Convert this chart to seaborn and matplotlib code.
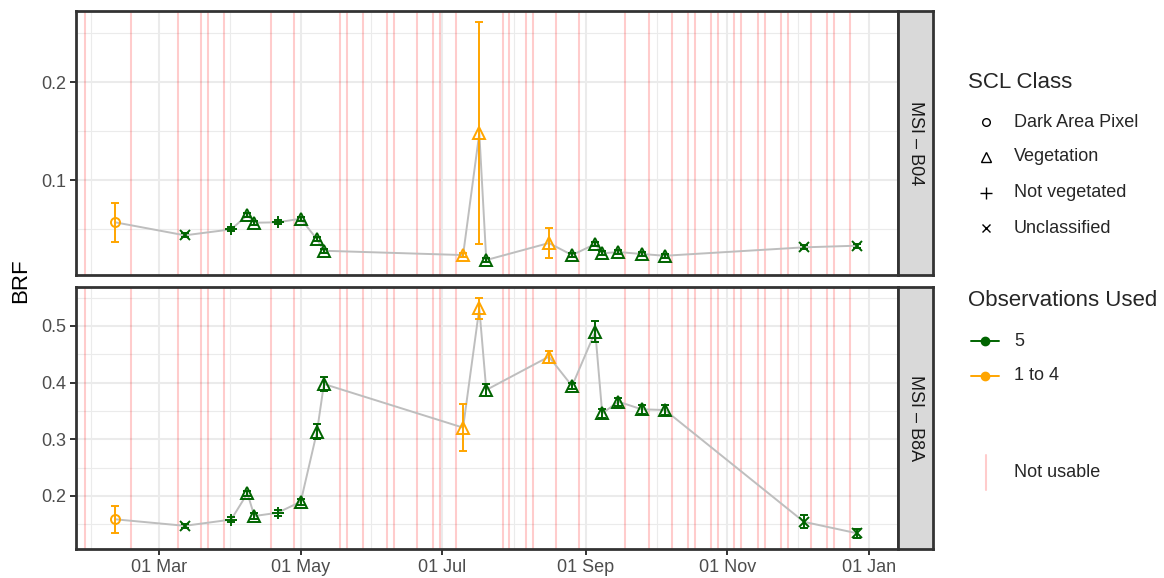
import numpy as np
import pandas as pd
import seaborn as sns
import matplotlib.pyplot as plt
import matplotlib.dates as mdates

# observation dates (Sentinel-2 overpasses used)
dates = ['2019-02-10', '2019-03-12', '2019-04-01', '2019-04-08', '2019-04-11', '2019-04-21',
         '2019-05-01', '2019-05-08', '2019-05-11', '2019-07-10', '2019-07-17', '2019-07-20',
         '2019-08-16', '2019-08-26', '2019-09-05', '2019-09-08', '2019-09-15', '2019-09-25',
         '2019-10-05', '2019-12-04', '2019-12-27']

scl_class = ['Dark Area Pixel', 'Unclassified', 'Not vegetated', 'Vegetation', 'Vegetation',
             'Not vegetated', 'Vegetation', 'Vegetation', 'Vegetation', 'Vegetation', 'Vegetation',
             'Vegetation', 'Vegetation', 'Vegetation', 'Vegetation', 'Vegetation', 'Vegetation',
             'Vegetation', 'Vegetation', 'Unclassified', 'Unclassified']

obs_used = ['1 to 4', '5', '5', '5', '5', '5', '5', '5', '5', '1 to 4', '1 to 4', '5',
            '1 to 4', '5', '5', '5', '5', '5', '5', '5', '5']

b04 = [0.0567, 0.0434, 0.0495, 0.0642, 0.0563, 0.0567, 0.0604, 0.0393, 0.0276, 0.0232, 0.1478,
       0.0181, 0.0355, 0.0232, 0.0345, 0.0250, 0.0263, 0.0243, 0.0225, 0.0311, 0.0328]
b04_err = [0.0198, 0.0020, 0.0020, 0.0020, 0.0020, 0.0020, 0.0020, 0.0020, 0.0020, 0.0020, 0.1135,
           0.0020, 0.0153, 0.0020, 0.0020, 0.0020, 0.0020, 0.0020, 0.0020, 0.0020, 0.0020]

b8a = [0.1585, 0.1470, 0.1580, 0.2044, 0.1643, 0.1700, 0.1896, 0.3133, 0.3975, 0.3204, 0.5313,
       0.3870, 0.4458, 0.3940, 0.4900, 0.3457, 0.3663, 0.3528, 0.3516, 0.1540, 0.1337]
b8a_err = [0.0242, 0.0040, 0.0050, 0.0040, 0.0050, 0.0050, 0.0050, 0.0130, 0.0125, 0.0420, 0.0185,
           0.0100, 0.0106, 0.0060, 0.0180, 0.0080, 0.0070, 0.0080, 0.0090, 0.0115, 0.0080]

# dates flagged as not usable
not_usable = ['2019-01-28', '2019-02-17', '2019-03-09', '2019-03-19', '2019-03-22', '2019-03-29',
              '2019-04-18', '2019-04-28', '2019-05-18', '2019-05-21', '2019-05-28', '2019-06-07',
              '2019-06-10', '2019-06-20', '2019-06-27', '2019-06-30', '2019-07-07', '2019-07-27',
              '2019-07-30', '2019-08-06', '2019-08-09', '2019-08-19', '2019-08-29', '2019-09-18',
              '2019-09-28', '2019-10-08', '2019-10-15', '2019-10-18', '2019-10-25', '2019-10-28',
              '2019-11-04', '2019-11-07', '2019-11-14', '2019-11-17', '2019-11-24', '2019-11-27',
              '2019-12-07', '2019-12-14', '2019-12-17', '2019-12-24']

bands = ['MSI – B04', 'MSI – B8A']
classes = ['Dark Area Pixel', 'Vegetation', 'Not vegetated', 'Unclassified']
used_levels = ['5', '1 to 4']

df = pd.DataFrame({'date': pd.to_datetime(dates), 'cls': scl_class, 'used': obs_used,
                   'B04': b04, 'B04_err': b04_err, 'B8A': b8a, 'B8A_err': b8a_err})
bad = pd.to_datetime(not_usable)

markers = {'Dark Area Pixel': 'o', 'Vegetation': '^', 'Not vegetated': '+', 'Unclassified': 'x'}
msize = {'Dark Area Pixel': 6.5, 'Vegetation': 8, 'Not vegetated': 8.5, 'Unclassified': 7.5}
palette = {'5': '#006400', '1 to 4': '#FFA500'}

sns.set_theme(style='white')
plt.rcParams['font.family'] = ['Liberation Sans', 'DejaVu Sans']

W, H = 1164, 578
fig = plt.figure(figsize=(W / 100, H / 100), dpi=100)

left, right = 76, 897.7
panels = [(11, 274.7, 'B04', (0.0031, 0.273), [0.1, 0.2], [0.05, 0.15, 0.25]),
          (286.7, 549.3, 'B8A', (0.1055, 0.5694), [0.2, 0.3, 0.4, 0.5], [0.15, 0.25, 0.35, 0.45, 0.55])]

xmin = pd.Timestamp('2019-01-24 02:00')
xmax = pd.Timestamp('2020-01-13 10:00')
major = pd.to_datetime(['2019-03-01', '2019-05-01', '2019-07-01', '2019-09-01', '2019-11-01', '2020-01-01'])
major_all = pd.to_datetime(['2019-01-01']).append(major)
minor = [major_all[i] + (major_all[i + 1] - major_all[i]) / 2 for i in range(len(major_all) - 1)]

for i, (top, bot, band, ylim, yt, ymin_t) in enumerate(panels):
    ax = fig.add_axes([left / W, 1 - bot / H, (right - left) / W, (bot - top) / H])
    ax.set_xlim(xmin, xmax)
    ax.set_ylim(*ylim)

    # ggplot-like grid
    for v in yt:
        ax.axhline(v, color='#EBEBEB', lw=1.5, zorder=0)
    for v in ymin_t:
        ax.axhline(v, color='#EBEBEB', lw=0.8, zorder=0)
    for d in major:
        ax.axvline(d, color='#EBEBEB', lw=1.5, zorder=0)
    for d in minor:
        ax.axvline(d, color='#EBEBEB', lw=0.8, zorder=0)

    for d in bad:
        ax.axvline(d, color='#FF0000', alpha=0.2, lw=1.5, zorder=1)

    sns.lineplot(data=df, x='date', y=band, color='#BEBEBE', lw=1.4, errorbar=None,
                 ax=ax, zorder=2)

    for (cls, used), sub in df.groupby(['cls', 'used']):
        col = palette[used]
        ax.errorbar(sub['date'], sub[band], yerr=sub[band + '_err'], fmt='none',
                    ecolor=col, elinewidth=1.4, capsize=3, capthick=1.4, zorder=3)
        ax.plot(sub['date'], sub[band], linestyle='none', marker=markers[cls],
                ms=msize[cls], mfc='none', mec=col, mew=1.4, zorder=4)

    ax.set_yticks(yt)
    ax.set_yticklabels([f'{v:.1f}' for v in yt])
    ax.set_xticks(major)
    ax.set_xlabel('')
    ax.set_ylabel('')
    ax.grid(False)
    ax.tick_params(axis='both', length=4, width=1.4, color='#333333', labelcolor='#4D4D4D',
                   labelsize=13, pad=3, left=True)
    if i == 1:
        ax.xaxis.set_major_formatter(mdates.DateFormatter('%d %b'))
        ax.tick_params(axis='x', bottom=True)
    else:
        ax.tick_params(axis='x', bottom=False, labelbottom=False)
    for s in ax.spines.values():
        s.set_color('#333333')
        s.set_linewidth(2)

    # facet strip
    sx = fig.add_axes([right / W, 1 - bot / H, 35.6 / W, (bot - top) / H])
    sx.set_facecolor('#D9D9D9')
    sx.set_xticks([])
    sx.set_yticks([])
    for s in sx.spines.values():
        s.set_color('#333333')
        s.set_linewidth(2)
    sx.text(0.5, 0.5, bands[i], rotation=270, ha='center', va='center', fontsize=13,
            color='#1A1A1A', transform=sx.transAxes)

fig.text(21 / W, 1 - 281 / H, 'BRF', rotation=90, ha='center', va='center', fontsize=16,
         color='black')

# legends drawn in pixel space
lg = fig.add_axes([0, 0, 1, 1])
lg.set_xlim(0, W)
lg.set_ylim(H, 0)
lg.axis('off')
lg.patch.set_visible(False)

lg.text(968, 83, 'SCL Class', fontsize=16, va='center', ha='left')
leg_y = [122.3, 156.7, 192.7, 228.3]
leg_ms = {'Dark Area Pixel': 5.5, 'Vegetation': 7, 'Not vegetated': 8, 'Unclassified': 6}
for cls, y in zip(classes, leg_y):
    lg.plot([986], [y], linestyle='none', marker=markers[cls], ms=leg_ms[cls], mfc='none',
            mec='black', mew=1)
    lg.text(1014, y, cls, fontsize=13, va='center', ha='left')

lg.text(968, 301, 'Observations Used', fontsize=16, va='center', ha='left')
for used, y in zip(used_levels, [341, 376]):
    lg.plot([971, 999.3], [y, y], color=palette[used], lw=1.4)
    lg.plot([985], [y], marker='o', ms=6, color=palette[used], linestyle='none')
    lg.text(1014, y, used, fontsize=13, va='center', ha='left')

lg.plot([985.7, 985.7], [455, 490], color='#FF0000', alpha=0.2, lw=1.5)
lg.text(1014, 472.7, 'Not usable', fontsize=13, va='center', ha='left')

fig.savefig('out.png', dpi=100)
